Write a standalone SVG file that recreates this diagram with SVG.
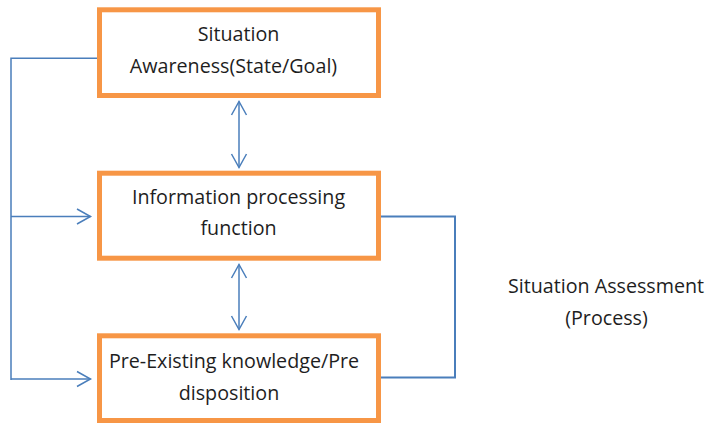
<svg xmlns="http://www.w3.org/2000/svg" width="707" height="423" viewBox="0 0 707 423">
<style>
.box{fill:#fff;stroke:#F79646;stroke-width:5}
.t{font-family:"Open Sans","Liberation Sans",sans-serif;font-size:19.7px;fill:#1e1e1e;text-anchor:middle}
.c{fill:none;stroke:#4A7EBB;stroke-width:1.5}
</style>
<defs>
<marker id="ah" markerUnits="userSpaceOnUse" markerWidth="20" markerHeight="20" viewBox="0 0 20 20" refX="15" refY="10" orient="auto-start-reverse">
<path d="M1.5,2.5 L15,10 L1.5,17.5" fill="none" stroke="#4A7EBB" stroke-width="1.5"/>
</marker>
</defs>
<rect width="707" height="423" fill="#fff"/>
<g id="connectors">
<polyline class="c" points="97,58.3 11,58.3 11,380"/>
<line class="c" x1="11" y1="216.5" x2="90.5" y2="216.5" marker-end="url(#ah)"/>
<line class="c" x1="11" y1="379" x2="90.5" y2="379" marker-end="url(#ah)"/>
<line class="c" x1="239" y1="101.5" x2="239" y2="167.5" marker-start="url(#ah)" marker-end="url(#ah)"/>
<line class="c" x1="239" y1="264.5" x2="239" y2="329.5" marker-start="url(#ah)" marker-end="url(#ah)"/>
<polyline class="c" style="stroke-width:2" points="381,216.5 455,216.5 455,377.5 381,377.5"/>
</g>
<g id="node-awareness">
<rect class="box" x="99.5" y="9.8" width="279" height="85.7"/>
<text class="t" x="238.5" y="41">Situation</text>
<text class="t" x="233.5" y="73">Awareness(State/Goal)</text>
</g>
<g id="node-processing">
<rect class="box" x="99.5" y="173.2" width="279" height="85"/>
<text class="t" x="238.5" y="204">Information processing</text>
<text class="t" x="238.5" y="235">function</text>
</g>
<g id="node-knowledge">
<rect class="box" x="99.5" y="335.8" width="279" height="84.7"/>
<text class="t" x="234" y="368">Pre-Existing knowledge/Pre</text>
<text class="t" x="229" y="400">disposition</text>
</g>
<g id="label-assessment">
<text class="t" x="606" y="293">Situation Assessment</text>
<text class="t" x="606.5" y="325">(Process)</text>
</g>
</svg>
